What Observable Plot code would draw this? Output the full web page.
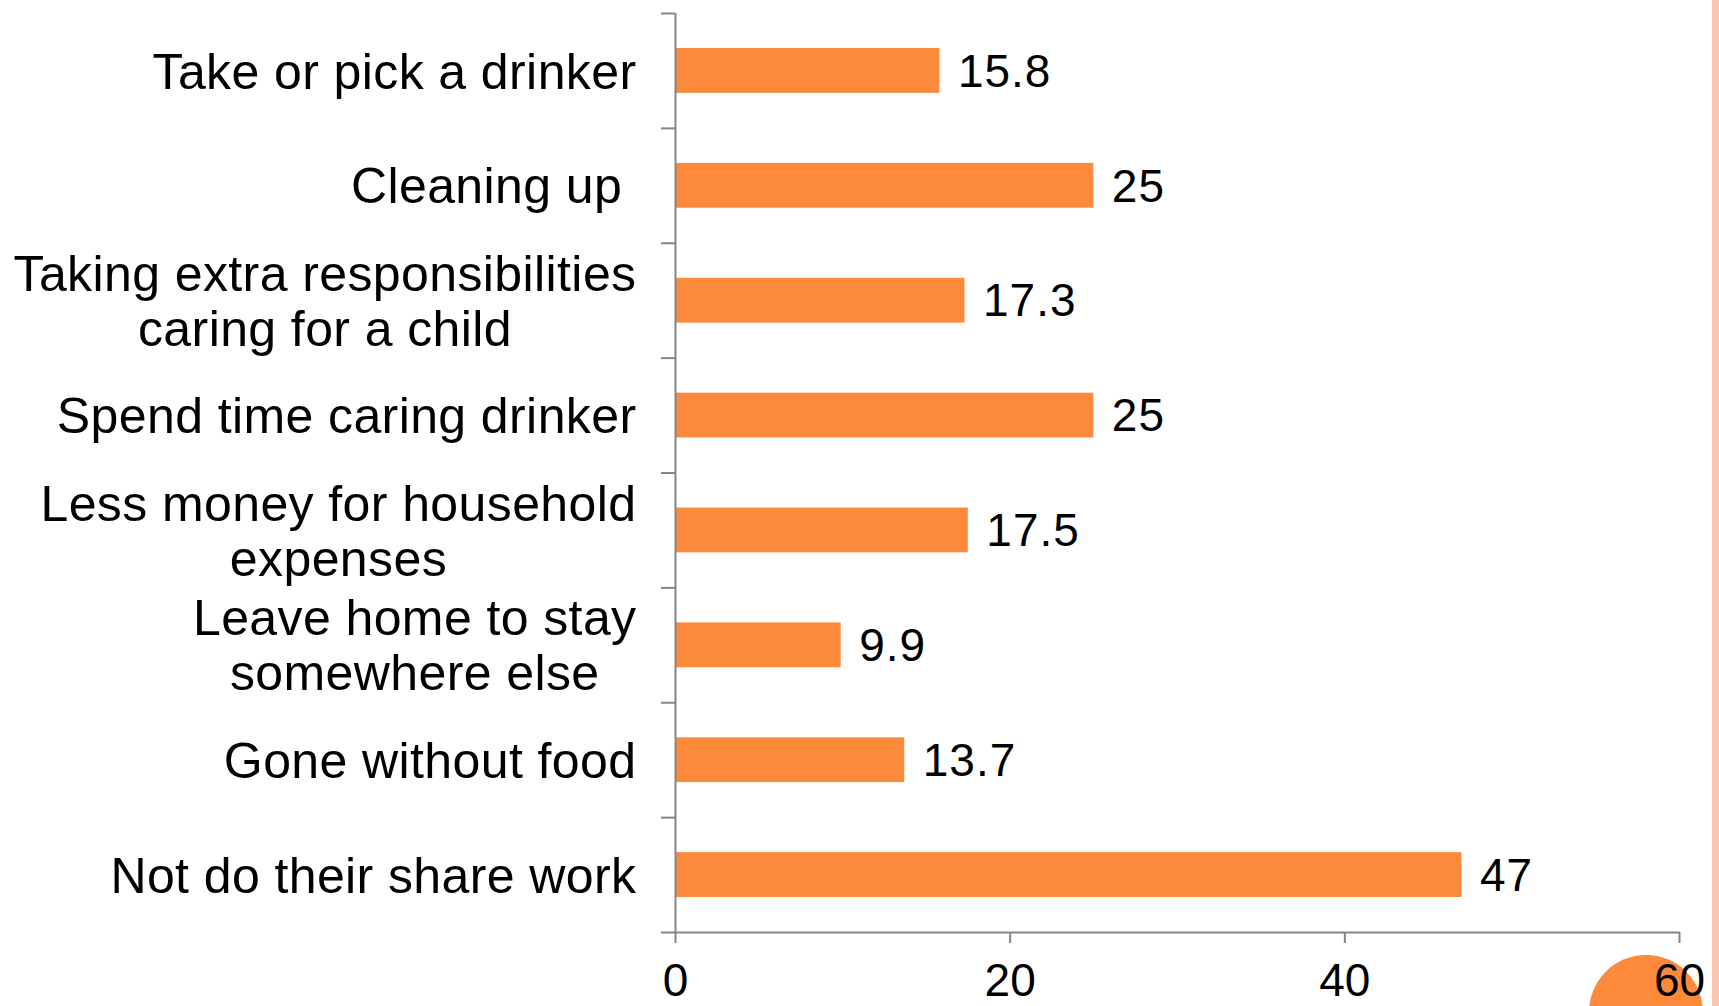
<!DOCTYPE html>
<html>
<head>
<meta charset="utf-8">
<script src="https://cdn.jsdelivr.net/npm/d3@7"></script>
<script src="https://cdn.jsdelivr.net/npm/@observablehq/plot@0.6"></script>
<style>
  html, body { margin: 0; padding: 0; background: #ffffff; overflow: hidden; }
  #wrap { position: relative; width: 1719px; height: 1006px; overflow: hidden; }
  #circle { position: absolute; left: 1589px; top: 955px; width: 114px; height: 114px; border-radius: 50%; background: #fd8a3b; z-index: 0; }
  #stripe { position: absolute; right: 0; top: 0; width: 7px; height: 1006px; background: #fcc5b0; z-index: 0; }
  #chart { position: absolute; left: 0; top: 0; z-index: 1; }
  #chart g[aria-label="y-axis tick label"] text { letter-spacing: 0.4px; }
  #chart g[aria-label="text"] text { letter-spacing: 1px; }
</style>
</head>
<body>
<div id="wrap">
  <div id="circle"></div>
  <div id="stripe"></div>
  <div id="chart"></div>
</div>
<script>
const categories = [
  "Take or pick a drinker",
  "Cleaning up\u00a0",
  "Taking extra responsibilities\ncaring for a child",
  "Spend time caring drinker",
  "Less money for household\nexpenses",
  "Leave home to stay\nsomewhere else",
  "Gone without food",
  "Not do their share work"
];
const values = [15.8, 25, 17.3, 25, 17.5, 9.9, 13.7, 47];
const xTicks = [0, 20, 40, 60];

const data = categories.map((c, i) => ({category: c, value: values[i]}));

const W = 1719, H = 1006, mL = 675, mR = 40, mT = 13, mB = 74;
const step = (H - mT - mB) / categories.length;
const axisColor = "#868686";
const last = categories[categories.length - 1];

const chart = Plot.plot({
  width: W,
  height: H,
  marginLeft: mL,
  marginRight: mR,
  marginTop: mT,
  marginBottom: mB,
  style: {fontFamily: "'Liberation Sans', Arial, sans-serif", background: "transparent", color: "#000", overflow: "visible"},
  x: {domain: [0, 60], axis: null},
  y: {domain: categories, paddingInner: 0.61, paddingOuter: 0.305, round: false, axis: null},
  marks: [
    Plot.barX(data, {y: "category", x: "value", fill: "#fd8a3b"}),
    Plot.text(data, {y: "category", x: "value", text: d => String(d.value), textAnchor: "start", dx: 18, dy: 1, fontSize: 46, fill: "#000"}),
    Plot.ruleX([0], {stroke: axisColor, strokeWidth: 2}),
    Plot.link([{a: 0, b: 60, c: last}], {x1: "a", x2: "b", y1: "c", y2: "c", dy: step / 2, stroke: axisColor, strokeWidth: 2}),
    Plot.axisY(categories, {tickSize: 14, tickFormat: () => "", dy: -step / 2, stroke: axisColor, strokeWidth: 2}),
    Plot.axisY([last], {tickSize: 14, tickFormat: () => "", dy: step / 2, stroke: axisColor, strokeWidth: 2}),
    Plot.axisY(categories, {tickSize: 0, tickPadding: 39, fontSize: 50, lineHeight: 1.1, textAnchor: "end", dy: 0, fill: "#000", stroke: null}),
    Plot.axisX(xTicks, {tickSize: 11, tickPadding: 20, fontSize: 46, tickFormat: d => String(d), stroke: axisColor, strokeWidth: 2, fill: "#000"})
  ]
});

document.getElementById("chart").appendChild(chart);

// center the lines of multi-line category labels on each other, keeping the block right-aligned
chart.querySelectorAll('g[aria-label="y-axis tick label"] text').forEach(t => {
  const spans = t.querySelectorAll("tspan");
  if (spans.length > 1) {
    let maxW = 0;
    spans.forEach(s => { maxW = Math.max(maxW, s.getComputedTextLength()); });
    t.setAttribute("text-anchor", "middle");
    spans.forEach(s => s.setAttribute("x", -maxW / 2));
  }
});
</script>
</body>
</html>
